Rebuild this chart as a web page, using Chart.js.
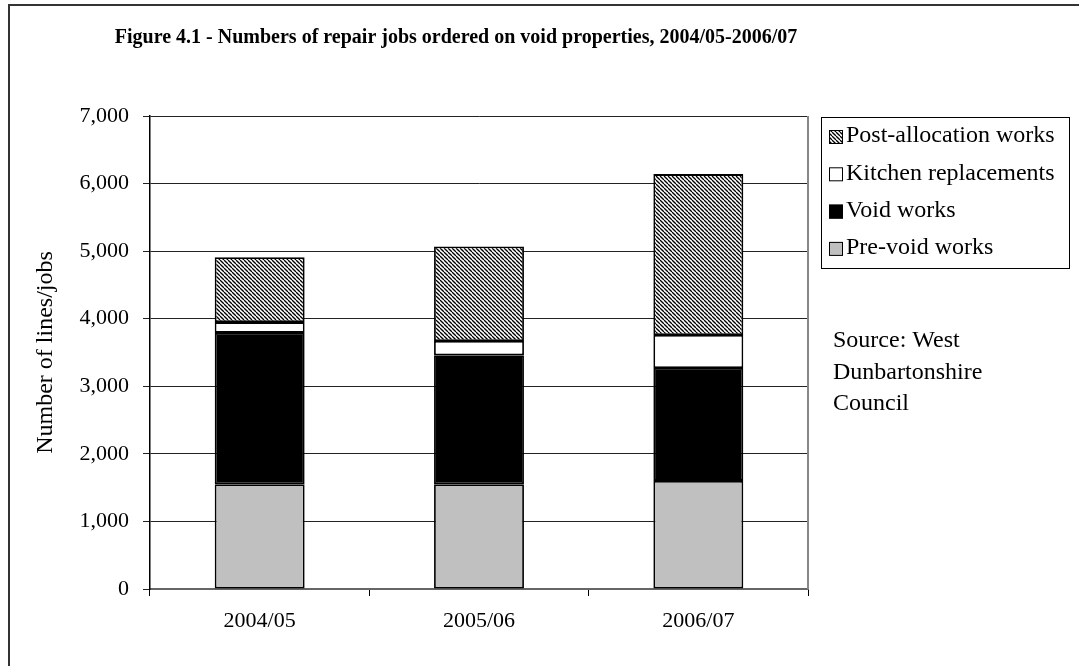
<!DOCTYPE html>
<html>
<head>
<meta charset="utf-8">
<title>Void repair jobs</title>
<script src="https://cdn.jsdelivr.net/npm/chart.js@4.4.1/dist/chart.umd.min.js"></script>
<style>
  html, body { margin: 0; padding: 0; background: #fff; }
  canvas { display: block; }
</style>
</head>
<body>
<canvas id="voidChart" width="1079" height="666"></canvas>
<script>
const years = ['2004/05', '2005/06', '2006/07'];
const preVoidWorks = [1550, 1550, 1600];
const voidWorks = [2240, 1910, 1670];
const kitchenReplacements = [160, 210, 490];
const postAllocationWorks = [960, 1400, 2380];

const chartTitle = 'Figure 4.1 - Numbers of repair jobs ordered on void properties, 2004/05-2006/07';
const yAxisTitle = 'Number of lines/jobs';
const sourceLines = ['Source: West', 'Dunbartonshire', 'Council'];

const serif = "'Liberation Serif', 'Times New Roman', serif";

// diagonal hatch for the post-allocation segments
function makeHatch() {
    const tile = document.createElement('canvas');
    tile.width = 4;
    tile.height = 4;
    const c = tile.getContext('2d');
    c.fillStyle = '#fff';
    c.fillRect(0, 0, 4, 4);
    c.strokeStyle = '#000';
    c.lineWidth = 1.3;
    for (const x of [-4, 0, 4]) {
        c.beginPath();
        c.moveTo(x, 0);
        c.lineTo(x + 4, 4);
        c.stroke();
    }
    return c.createPattern(tile, 'repeat');
}

const ctx = document.getElementById('voidChart').getContext('2d');
const hatch = makeHatch();

// frame, title, right border, legend and source note
const decorations = {
    id: 'decorations',
    afterDraw(chart) {
        const c = chart.ctx;
        const area = chart.chartArea;
        c.save();

        c.strokeStyle = '#333';
        c.lineWidth = 2;
        c.strokeRect(9, 5, 1100, 700);

        c.strokeStyle = '#888';
        c.lineWidth = 2;
        c.beginPath();
        c.moveTo(area.right, area.top);
        c.lineTo(area.right, area.bottom);
        c.stroke();

        c.fillStyle = '#000';
        c.font = 'bold 20px ' + serif;
        c.textAlign = 'center';
        c.textBaseline = 'middle';
        c.fillText(chartTitle, 456, 38);

        // legend box, top entry is the top of the stack
        c.strokeStyle = '#000';
        c.lineWidth = 1;
        c.strokeRect(821.5, 117.5, 248, 151);
        c.font = '24px ' + serif;
        c.textAlign = 'left';
        const sets = chart.data.datasets.slice().reverse();
        sets.forEach((ds, i) => {
            const y = 136 + i * 37.3;
            c.fillStyle = ds.backgroundColor;
            c.fillRect(829, y - 6, 14, 14);
            c.strokeStyle = '#000';
            c.strokeRect(829.5, y - 5.5, 13, 13);
            c.fillStyle = '#000';
            c.fillText(ds.label, 846, y);
        });

        sourceLines.forEach((line, i) => {
            c.fillText(line, 833, 341 + i * 31.5);
        });
        c.restore();
    }
};

new Chart(ctx, {
    type: 'bar',
    data: {
        labels: years,
        datasets: [
            { label: 'Pre-void works', data: preVoidWorks, backgroundColor: '#c0c0c0' },
            { label: 'Void works', data: voidWorks, backgroundColor: '#000000' },
            { label: 'Kitchen replacements', data: kitchenReplacements, backgroundColor: '#ffffff' },
            { label: 'Post-allocation works', data: postAllocationWorks, backgroundColor: hatch }
        ]
    },
    options: {
        responsive: false,
        animation: false,
        layout: { padding: { top: 116, right: 271, bottom: 0, left: 0 } },
        datasets: {
            bar: {
                barPercentage: 0.41,
                categoryPercentage: 1,
                borderColor: '#000',
                borderWidth: 1.8,
                borderSkipped: false
            }
        },
        plugins: {
            legend: { display: false },
            tooltip: { enabled: false }
        },
        scales: {
            x: {
                stacked: true,
                afterFit(scale) { scale.height = 77; },
                grid: {
                    offset: true,
                    drawOnChartArea: false,
                    tickLength: 7,
                    color: '#000'
                },
                border: { color: '#666', width: 2 },
                ticks: {
                    color: '#000',
                    padding: 12,
                    font: { family: serif, size: 22 }
                }
            },
            y: {
                stacked: true,
                min: 0,
                max: 7000,
                afterFit(scale) { scale.width = 150; },
                grid: {
                    color: '#222',
                    tickLength: 7
                },
                border: { color: '#000', width: 1.5 },
                ticks: {
                    stepSize: 1000,
                    color: '#000',
                    padding: 14,
                    font: { family: serif, size: 22 },
                    callback: (v) => v.toLocaleString('en-GB')
                },
                title: {
                    display: true,
                    text: yAxisTitle,
                    color: '#000',
                    padding: { top: 31, bottom: 0 },
                    font: { family: serif, size: 24 }
                }
            }
        }
    },
    plugins: [decorations]
});
</script>
</body>
</html>
